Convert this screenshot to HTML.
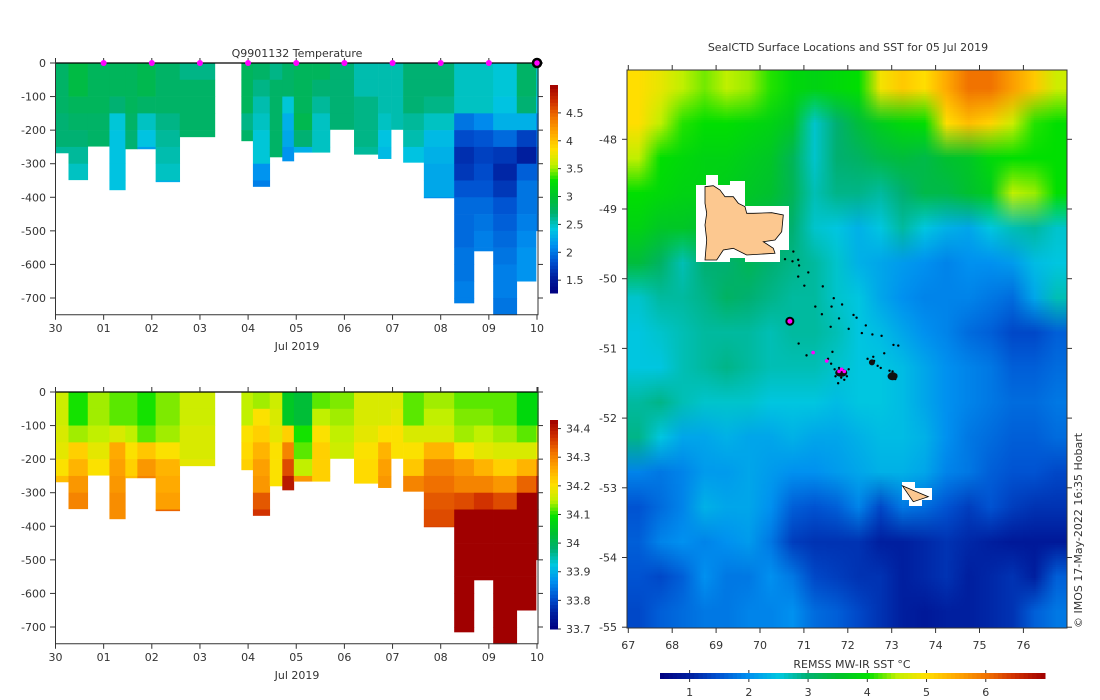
<!DOCTYPE html>
<html><head><meta charset="utf-8"><style>
body{margin:0;background:#fff;width:1100px;height:700px;overflow:hidden;position:relative;font-family:"DejaVu Sans","Liberation Sans",sans-serif}
#sst{position:absolute;left:627px;top:70px;width:440px;height:558px;image-rendering:auto}
svg{position:absolute;left:0;top:0}
text{font-family:"DejaVu Sans","Liberation Sans",sans-serif;font-size:11px;fill:#333}
</style></head><body>
<canvas id="sst" width="20" height="16"></canvas>
<svg id="svg" width="1100" height="700" xmlns="http://www.w3.org/2000/svg"></svg>
<script>
// ---------- profile data ----------
const tStart=[0,0.27,0.67,1.12,1.45,1.70,2.08,2.58,3.86,4.10,4.45,4.71,4.95,5.33,5.70,6.20,6.70,6.97,7.22,7.65,8.28,8.69,9.09,9.58,9.98];
const tEnd=[0.27,0.67,1.12,1.45,1.70,2.08,2.58,3.31,4.10,4.45,4.71,4.95,5.33,5.70,6.20,6.70,6.97,7.22,7.65,8.28,8.69,9.09,9.58,9.98,10.03];
const maxDepth=[268,348,248,378,256,256,354,220,232,368,280,292,266,266,198,272,285,198,296,402,715,560,750,650,500];
const depthStep=50;
const tempValues=[
[2.75,2.75,2.75,2.7,2.7,2.6],
[2.9,2.9,2.8,2.75,2.7,2.6,2.5],
[2.8,2.8,2.8,2.75,2.75],
[2.8,2.8,2.7,2.45,2.4,2.4,2.4,2.4],
[2.8,2.8,2.8,2.75,2.7,2.7],
[2.85,2.85,2.75,2.5,2.4,2.2],
[2.75,2.75,2.75,2.65,2.6,2.55,2.5,2.3],
[2.65,2.75,2.75,2.75,2.75],
[2.8,2.8,2.8,2.65,2.75],
[2.75,2.65,2.55,2.5,2.45,2.45,2.15,2.05],
[2.65,2.75,2.75,2.75,2.75,2.75],
[2.75,2.75,2.45,2.3,2.25,2.15],
[2.8,2.8,2.8,2.85,2.7,2.3],
[2.8,2.7,2.6,2.5,2.5,2.5],
[2.7,2.7,2.7,2.7],
[2.55,2.55,2.65,2.65,2.65,2.6],
[2.55,2.55,2.55,2.5,2.4,2.35],
[2.55,2.55,2.55,2.55],
[2.7,2.7,2.7,2.6,2.55,2.4],
[2.7,2.7,2.65,2.5,2.35,2.3,2.25,2.25,2.1],
[2.5,2.5,2.5,2.0,1.8,1.65,1.7,1.85,1.95,1.95,1.95,2.0,2.0,2.05,2.05],
[2.5,2.5,2.5,2.1,1.85,1.75,1.8,1.85,1.95,2.0,2.05,2.05],
[2.45,2.45,2.4,2.3,1.95,1.7,1.6,1.7,1.85,1.9,1.95,2.0,2.05,2.05,2.0],
[2.75,2.75,2.7,2.3,1.75,1.55,1.9,2.0,2.0,2.05,2.1,2.15,2.15],
[2.5,2.5,2.4,2.1,1.9,1.8,1.9,2.0,2.0,2.0]];
const salValues=[
[34.16,34.16,34.17,34.18,34.2,34.24],
[34.1,34.1,34.14,34.22,34.25,34.28,34.3],
[34.14,34.14,34.15,34.18,34.2],
[34.12,34.12,34.17,34.26,34.27,34.28,34.29,34.29],
[34.12,34.12,34.15,34.2,34.22,34.24],
[34.1,34.1,34.12,34.23,34.28,34.3],
[34.13,34.13,34.14,34.2,34.25,34.26,34.27,34.33],
[34.16,34.16,34.17,34.17,34.18],
[34.15,34.15,34.2,34.21,34.22],
[34.14,34.2,34.22,34.25,34.27,34.28,34.34,34.37],
[34.16,34.17,34.18,34.2,34.2,34.2],
[34.05,34.05,34.22,34.3,34.35,34.4],
[34.03,34.03,34.1,34.12,34.15,34.28],
[34.12,34.15,34.2,34.22,34.22,34.22],
[34.13,34.14,34.15,34.16],
[34.17,34.17,34.18,34.2,34.21,34.21],
[34.17,34.17,34.2,34.25,34.27,34.28],
[34.17,34.18,34.2,34.2],
[34.12,34.12,34.17,34.2,34.23,34.3],
[34.14,34.15,34.17,34.25,34.3,34.32,34.34,34.35,34.36],
[34.12,34.13,34.14,34.2,34.28,34.3,34.35,34.43,34.43,34.43,34.43,34.43,34.43,34.43,34.43],
[34.12,34.13,34.15,34.18,34.25,34.3,34.37,34.43,34.43,34.43,34.43,34.43],
[34.12,34.12,34.14,34.17,34.22,34.28,34.35,34.43,34.43,34.43,34.43,34.43,34.43,34.43,34.43],
[34.08,34.08,34.12,34.17,34.25,34.33,34.43,34.43,34.43,34.43,34.43,34.43,34.43],
[34.08,34.08,34.14,34.2,34.3,34.38,34.43,34.43,34.43,34.43]];
const dayTicks=["30","01","02","03","04","05","06","07","08","09","10"];
const depthTicks=[0,-100,-200,-300,-400,-500,-600,-700];
const tempCbTicks=[1.5,2,2.5,3,3.5,4,4.5];
const salCbTicks=[33.7,33.8,33.9,34,34.1,34.2,34.3,34.4];
const surfaceDays=[1,2,3,4,5,6,7,8,9];
// ---------- SST data (rows lat -47.25..-54.75, cols lon 67.25..76.75) ----------
const sstLon0=67, sstLat0=-47, sstStep=0.5;
const sstRows=[
[5.0,4.8,4.5,4.3,4.5,4.4,4.1,3.9,3.8,3.9,4.0,4.9,5.2,5.0,5.5,6.0,6.0,5.6,5.2,4.6],
[5.0,4.5,4.1,4.0,4.0,3.9,3.8,3.6,2.6,3.0,3.4,3.7,3.9,4.0,5.0,5.3,5.1,4.6,4.1,4.0],
[4.5,4.0,3.9,3.8,3.8,3.7,3.6,3.2,2.6,3.0,3.1,3.3,3.4,3.3,3.5,3.6,3.9,4.0,4.0,4.0],
[4.0,3.9,3.8,3.8,3.7,3.6,3.5,3.2,2.7,2.9,2.9,2.8,3.0,3.3,3.3,3.5,3.7,4.5,4.4,4.0],
[3.8,3.6,3.6,3.5,3.5,3.4,3.2,3.0,2.6,2.5,2.3,2.5,2.8,2.5,2.3,2.2,2.5,2.7,2.8,2.6],
[3.4,3.1,2.7,3.0,3.0,3.2,3.0,2.9,2.8,2.6,2.3,2.2,2.1,2.0,1.9,2.0,2.0,2.1,2.4,2.5],
[2.6,2.8,2.8,2.9,3.1,3.0,2.9,2.8,2.8,2.6,2.5,2.2,2.0,1.9,1.9,1.9,1.8,1.7,2.2,2.7],
[2.5,2.6,2.7,2.8,2.8,2.8,2.7,2.8,2.8,2.7,2.5,2.4,2.2,2.0,1.9,1.7,1.6,1.4,1.4,1.6],
[2.5,2.5,2.7,2.8,2.9,2.8,2.7,2.7,2.7,2.6,2.5,2.5,2.4,2.2,2.0,1.9,1.8,1.6,1.6,1.7],
[2.8,2.9,2.7,2.6,2.6,2.6,2.5,2.5,2.5,2.4,2.5,2.5,2.4,2.2,2.0,1.9,1.8,1.7,1.7,1.8],
[2.9,2.5,2.2,2.2,2.3,2.2,2.2,2.3,2.2,2.2,2.3,2.4,2.4,2.3,2.0,1.8,1.7,1.6,1.6,1.7],
[1.9,1.8,1.9,2.1,2.1,2.2,2.1,2.0,2.0,2.1,2.2,2.3,2.3,2.2,1.9,1.8,1.6,1.5,1.5,1.4],
[1.5,1.7,1.9,2.3,2.2,2.2,2.0,1.6,1.5,1.6,1.9,1.4,1.8,1.7,1.5,1.3,1.5,1.3,1.2,1.2],
[1.6,1.9,2.0,1.9,2.0,2.1,1.8,1.3,1.2,1.2,1.2,1.0,1.0,1.1,1.2,1.1,1.0,0.9,0.9,0.9],
[1.5,1.4,1.6,2.0,1.8,1.8,2.0,1.8,1.4,1.3,1.2,1.2,1.0,1.1,1.2,1.0,1.1,1.2,1.0,1.6],
[1.4,1.6,1.7,1.8,1.8,1.9,1.9,2.0,1.7,1.6,1.4,1.2,1.0,0.9,1.0,1.0,1.1,1.2,1.6,1.8]];
const sstCbTicks=[1,2,3,4,5,6];
const lonTicks=[67,68,69,70,71,72,73,74,75,76];
const latTicks=[-48,-49,-50,-51,-52,-53,-54,-55];
const trackLon=[70.76,70.57,70.74,70.87,70.89,71.10,70.87,71.01,71.43,71.68,71.26,71.63,71.87,71.41,71.80,72.13,72.20,72.41,71.61,72.02,72.32,72.56,72.77,70.88,73.04,73.15,72.83,71.06,71.55,71.62,71.70,71.75,71.80,71.88,71.95,72.02,71.72,71.85,71.98,72.45,72.52,72.60,72.68,72.75,72.58,72.95,73.00,73.05,73.10,72.98,73.08,71.65,71.78,71.92,73.02];
const trackLat=[-49.61,-49.72,-49.75,-49.73,-49.81,-49.91,-49.97,-50.10,-50.11,-50.28,-50.40,-50.40,-50.37,-50.51,-50.57,-50.52,-50.56,-50.67,-50.69,-50.72,-50.78,-50.80,-50.82,-50.93,-50.95,-50.96,-51.07,-51.10,-51.15,-51.22,-51.30,-51.35,-51.28,-51.38,-51.33,-51.30,-51.40,-51.42,-51.40,-51.15,-51.20,-51.18,-51.25,-51.28,-51.12,-51.32,-51.36,-51.40,-51.38,-51.42,-51.44,-51.05,-51.50,-51.45,-51.33];
const magLon=[71.21,71.52,71.80,71.86,71.92];
const magLat=[-51.06,-51.18,-51.33,-51.30,-51.33];

// ---------- helpers ----------
const NS='http://www.w3.org/2000/svg';
const svg=document.getElementById('svg');
function el(tag,attrs,parent){const e=document.createElementNS(NS,tag);for(const k in attrs)e.setAttribute(k,attrs[k]);(parent||svg).appendChild(e);return e;}
function txt(s,x,y,anchor,parent,extra){const t=el('text',Object.assign({x:x,y:y,'text-anchor':anchor||'middle'},extra||{}),parent);t.textContent=s;return t;}
const stops=[[0,[0,0,128]],[0.08,[0,32,160]],[0.15,[0,80,208]],[0.23,[0,144,240]],[0.31,[0,200,224]],[0.385,[0,176,112]],[0.46,[0,192,48]],[0.54,[0,224,0]],[0.615,[192,240,0]],[0.69,[255,224,0]],[0.77,[255,168,0]],[0.85,[240,112,0]],[0.92,[208,48,0]],[1,[160,0,0]]];
function cmap(f){f=Math.max(0,Math.min(1,f));for(let i=1;i<stops.length;i++){if(f<=stops[i][0]){const a=stops[i-1],b=stops[i];const u=(f-a[0])/(b[0]-a[0]);const c=a[1].map((v,k)=>Math.round(v+(b[1][k]-v)*u));return 'rgb('+c.join(',')+')';}}return 'rgb(160,0,0)';}

// ---------- section plots ----------
function section(gname,top,values,vmin,vmax,cbTop,cbBot,cbTicks,cbName,titleText){
  const g=el('g',{});
  
  
  const xd=t=>55.5+t*48.15;
  const yd=d=>top+d*0.3357;
  const bottom=yd(750);
  for(let c=0;c<tStart.length;c++){
    const vals=values[c];
    for(let i=0;i<vals.length;i++){
      const d0=i*depthStep, d1=Math.min((i+1)*depthStep,maxDepth[c]);
      if(d1<=d0)continue;
      const r=el('rect',{x:xd(tStart[c]),y:yd(d0),width:xd(tEnd[c])-xd(tStart[c])+0.3,height:yd(d1)-yd(d0)+0.3,fill:cmap((vals[i]-vmin)/(vmax-vmin))},g);
      
      
    }
  }
  // axes
  el('line',{x1:55.5,y1:top,x2:538,y2:top,stroke:'#000','stroke-width':1.2},g);
  el('path',{d:`M55.5 ${top-5}V${bottom}H538V${top-5}`,fill:'none',stroke:'#333','stroke-width':1},g);
  dayTicks.forEach((s,i)=>{const x=xd(i);
    el('line',{x1:x,y1:bottom,x2:x,y2:bottom+5,stroke:'#333'},g);
    el('line',{x1:x,y1:top,x2:x,y2:top-5,stroke:'#333'},g);
    const t=txt(s,x,bottom+17,'middle',g);});
  depthTicks.forEach(d=>{const y=yd(-d);
    el('line',{x1:50,y1:y,x2:55.5,y2:y,stroke:'#333'},g);
    el('line',{x1:538,y1:y,x2:543,y2:y,stroke:'#333'},g);
    const t=txt(String(d),46,y+4,'end',g);});
  const xl=txt('Jul 2019',297,bottom+35,'middle',g,{'font-size':'12'});
  
  if(titleText){const tt=txt(titleText,297,top-6,'middle',g,{'font-size':'12','xml:space':'preserve'});}
  // colorbar
  const cb=el('g',{},g);
  
  
  const n=60;
  for(let i=0;i<n;i++){const y0=cbBot-(i+1)*(cbBot-cbTop)/n;el('rect',{x:550,y:y0,width:8,height:(cbBot-cbTop)/n+0.5,fill:cmap((i+0.5)/n)},cb);}
  const vy=v=>cbBot-(v-vmin)/(vmax-vmin)*(cbBot-cbTop);
  cbTicks.forEach(v=>{const y=vy(v);el('line',{x1:558,y1:y,x2:561,y2:y,stroke:'#333'},cb);
    const t=txt(String(v),566,y+4,'start',cb);});
  return {g,xd,top};
}
const tp=section('temperature-section',63,tempValues,1.27,5.0,85,293,tempCbTicks,'temperature-colorbar','Q9901132  Temperature');
section('salinity-section',392,salValues,33.7,34.43,420,629,salCbTicks,'salinity-colorbar',null);
surfaceDays.forEach(d=>{const c=el('circle',{cx:tp.xd(d),cy:63,r:3,fill:'#ff00ff'},tp.g);
  });
{const c=el('circle',{cx:tp.xd(10),cy:63,r:4,fill:'#ff00ff',stroke:'#000','stroke-width':2.5},tp.g);
 }

// ---------- map ----------
const cv=document.getElementById('sst');const ctx=cv.getContext('2d');
const sMin=0.5,sMax=7.0;
sstRows.forEach((row,r)=>row.forEach((v,c)=>{ctx.fillStyle=cmap((v-sMin)/(sMax-sMin));ctx.fillRect(c,r,1,1);}));
const lonX=lon=>628.3+(lon-67)*43.9;
const latY=lat=>139.3+(-48-lat)*69.7;
const mg=el('g',{});


// islands
const isl=el('g',{},mg);


el('path',{d:'M696 185H706V175H718V185H730V181H745V206H789V250H780V262H745V258H730V262H696Z',fill:'#fff'},isl);
el('polygon',{points:'705,186.7 713.3,185.7 720,190 725,196.7 733.3,196.7 738.3,203.3 745,206.7 746.7,213.3 753.3,213.3 771.7,212.7 783.3,215 781.7,231.7 775,240 763.3,241.7 773.3,248.3 775,253.3 746.7,255 733.3,248.3 723.3,250 716.7,260 705,260 706.7,240 705,225 706.7,213.3 705,203.3',fill:'#fcc890',stroke:'#000','stroke-width':0.8},isl);
const hd=el('g',{},mg);


el('path',{d:'M902 482H915V488H932V500H922V506H909V500H902Z',fill:'#fff'},hd);
el('polygon',{points:'902.3,485.7 928.3,496.7 913.3,501.7',fill:'#fcc890',stroke:'#000','stroke-width':0.8},hd);
// track dots
trackLon.forEach((lon,i)=>{const c=el('circle',{cx:lonX(lon),cy:latY(trackLat[i]),r:1.2,fill:'#000'},mg);
  });
// dense clusters
[[71.85,-51.35,6,4],[73.02,-51.40,5,4],[72.55,-51.2,3,3]].forEach(([lon,lat,rx,ry])=>{const e=el('ellipse',{cx:lonX(lon),cy:latY(lat),rx:rx,ry:ry,fill:'#111'},mg);
  });
magLon.forEach((lon,i)=>{const c=el('circle',{cx:lonX(lon),cy:latY(magLat[i]),r:1.8,fill:'#ff00ff'},mg);
  });
{const c=el('circle',{cx:lonX(70.68),cy:latY(-50.61),r:3.5,fill:'#ff00ff',stroke:'#000','stroke-width':2},mg);
 }
// map axes
el('rect',{x:627,y:70,width:440,height:558,fill:'none',stroke:'#333','stroke-width':1},mg);
lonTicks.forEach(lon=>{const x=lonX(lon);
  el('line',{x1:x,y1:628,x2:x,y2:633,stroke:'#333'},mg);
  el('line',{x1:x,y1:70,x2:x,y2:65,stroke:'#333'},mg);
  const t=txt(String(lon),x,649,'middle',mg);});
latTicks.forEach(lat=>{const y=latY(lat);
  el('line',{x1:622,y1:y,x2:627,y2:y,stroke:'#333'},mg);
  el('line',{x1:1067,y1:y,x2:1072,y2:y,stroke:'#333'},mg);
  const t=txt(String(lat),617,y+4,'end',mg);});
{const t=txt('SealCTD Surface Locations and SST for 05 Jul 2019',848,51,'middle',svg,{'font-size':'11.5'});
 }
{const t=txt('REMSS MW-IR SST °C',852,668,'middle',svg);
 }
const scb=el('g',{});


const N=90;
for(let i=0;i<N;i++){el('rect',{x:660+i*385/N,y:673,width:385/N+0.5,height:6,fill:cmap((i+0.5)/N)},scb);}
sstCbTicks.forEach(v=>{const x=660+(v-sMin)/(sMax-sMin)*385;
  el('line',{x1:x,y1:670,x2:x,y2:673,stroke:'#333'},scb);
  el('line',{x1:x,y1:679,x2:x,y2:682,stroke:'#333'},scb);
  const t=txt(String(v),x,696,'middle',scb);});
{const t=txt('© IMOS 17-May-2022 16:35 Hobart',0,0,'start',svg,{'font-size':'10',transform:'translate(1082,628) rotate(-90)'});
 }
</script>
</body></html>
